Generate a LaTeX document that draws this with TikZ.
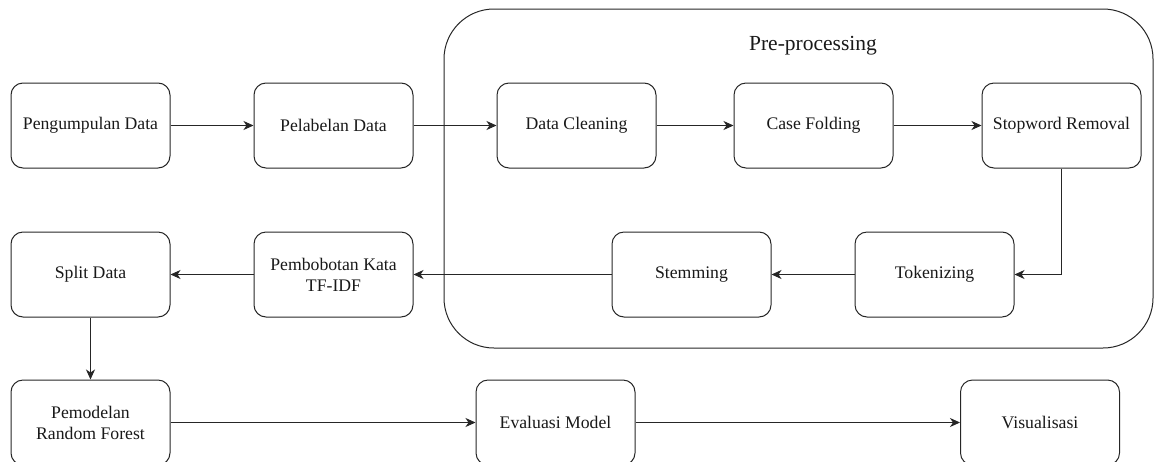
\documentclass[tikz,border=0pt]{standalone}
\usepackage{fontspec}
\setmainfont{Liberation Serif}
\usetikzlibrary{arrows.meta}
\begin{document}
\begin{tikzpicture}[x=1pt,y=-1pt,
  box/.style={draw=black!85, line width=1pt, rounded corners=12pt,
    minimum width=159pt, minimum height=85pt, inner sep=2pt, align=center,
    font=\fontsize{17.7}{21}\selectfont, text=black!90},
  conn/.style={draw=black!85, line width=1pt, -{Stealth[length=10pt,width=9pt,inset=3pt]}},
  group/.style={draw=black!85, line width=1pt, rounded corners=50pt}]
\useasboundingbox (0,0) rectangle (1155,461);
% container
\draw[group] (444,9) rectangle (1153,348);
\node[font=\fontsize{21.5}{25}\selectfont, text=black!90] (title) at (813,46) {Pre-processing};
% row 1
\node[box] (kumpul) at (90.5,125.5) {Pengumpulan Data};
\node[box] (label) at (333.5,125.5) {Pelabelan Data};
\node[box] (clean) at (576.5,125.5) {Data Cleaning};
\node[box] (fold) at (813.5,125.5) {Case Folding};
\node[box] (stop) at (1061.5,125.5) {Stopword Removal};
% row 2
\node[box] (split) at (90.5,274.5) {Split Data};
\node[box] (bobot) at (333.5,274.5) {Pembobotan Kata\\TF-IDF};
\node[box] (stem) at (691.5,274.5) {Stemming};
\node[box] (token) at (934.5,274.5) {Tokenizing};
% row 3
\node[box] (model) at (90.5,422.5) {Pemodelan\\Random Forest};
\node[box] (eval) at (555.5,422.5) {Evaluasi Model};
\node[box] (vis) at (1040,422.5) {Visualisasi};
% connectors
\draw[conn] (kumpul) -- (label);
\draw[conn] (label) -- (clean);
\draw[conn] (clean) -- (fold);
\draw[conn] (fold) -- (stop);
\draw[conn] (stop.south) |- (token.east);
\draw[conn] (token) -- (stem);
\draw[conn] (stem) -- (bobot);
\draw[conn] (bobot) -- (split);
\draw[conn] (split) -- (model);
\draw[conn] (model) -- (eval);
\draw[conn] (eval) -- (vis);
\end{tikzpicture}
\end{document}
